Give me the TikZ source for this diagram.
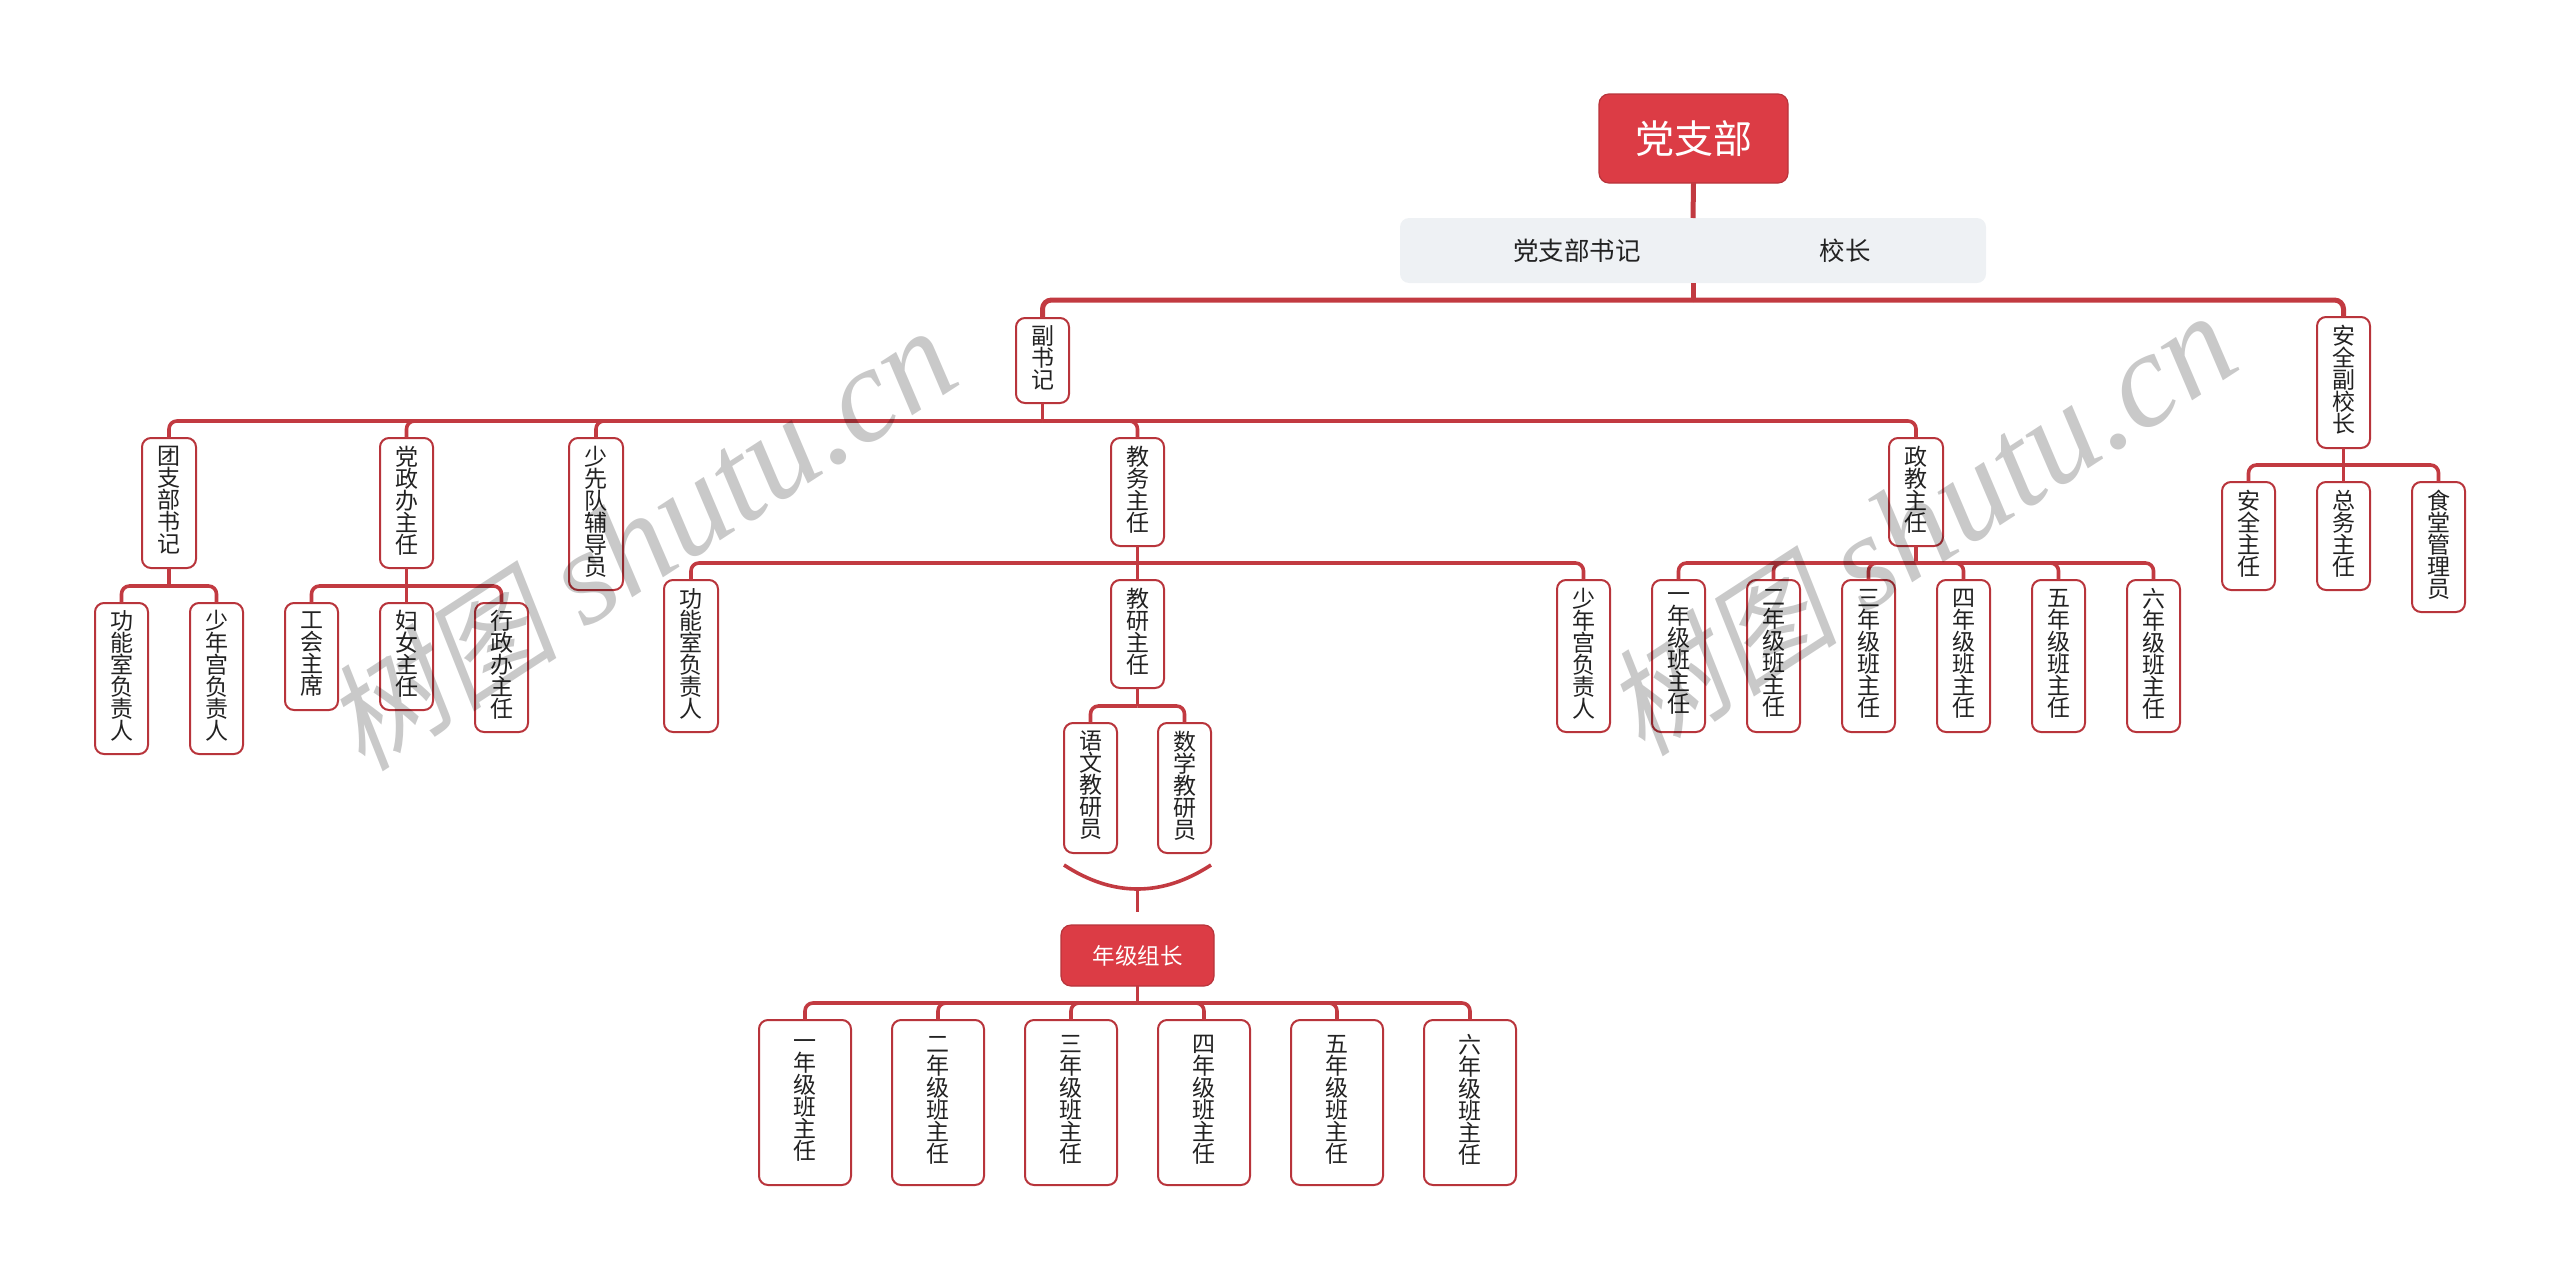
\documentclass[tikz,border=0pt]{standalone}
\usepackage{fontspec}
\setmainfont{Noto Sans CJK SC}
\newfontfamily\wmserif{Liberation Serif}
\newfontfamily\wmcjk[FakeSlant=0.2]{Noto Sans CJK SC}
\definecolor{redfill}{HTML}{DC3C45}
\definecolor{redline}{HTML}{C23A41}
\definecolor{redborder}{HTML}{B8343B}
\definecolor{stripfill}{HTML}{EEF1F4}
\definecolor{inktext}{HTML}{222222}
\tikzset{
  vbox/.style={draw=redborder,line width=2pt,fill=white,rounded corners=9pt,inner sep=0pt,outer sep=0pt},
  vlabel/.style={inner sep=0pt,outer sep=0pt,align=center,text=inktext,yshift=2.5pt,
    font=\fontsize{23}{22}\selectfont},
  redbox/.style={fill=redfill,draw=redborder,line width=1.2pt,rounded corners=10pt,inner sep=0pt,outer sep=0pt,text=white,align=center},
  wire/.style={draw=redline,line width=3.6pt},
  wirebend/.style={wire,rounded corners=8pt},
  topwire/.style={draw=redline,line width=5pt},
  topbend/.style={topwire,rounded corners=9pt},
  watermark/.style={text=black,opacity=0.21,rotate=33,inner sep=0pt}
}
\newcommand\bx[6]{\node[vbox,minimum width={(#3-#2)*1pt},minimum height={(#5-#4)*1pt}] (#1) at ({(#2+#3)/2},{(#4+#5)/2}) {};
  \node[vlabel] (#1t) at (#1.center) {#6};}
\newcommand\kids[3]{%
  \coordinate (busy) at (0,#2);
  \draw[wire] (#1.south) -- (#1.south |- busy);
  \foreach \c in {#3} { \draw[wirebend] (#1.south |- busy) -| (\c.north); }
}
\newcommand\wmtext{{\fontsize{118}{118}\selectfont\wmcjk 树图}\hspace{28pt}{\fontsize{135}{135}\selectfont\wmserif\itshape shutu.cn}}
\begin{document}
\lineskiplimit=-100pt
\begin{tikzpicture}[x=1pt,y=-1pt]
\useasboundingbox (0,0) rectangle (2560,1280);
% header
\node[redbox,minimum width=189pt,minimum height=89pt,font=\fontsize{39}{39}\selectfont] (root) at (1693.5,138.5) {党支部};
\node[fill=stripfill,rounded corners=9pt,minimum width=586pt,minimum height=65pt,inner sep=0pt,outer sep=0pt] (strip) at (1693,250.5) {};
\node[text=inktext,font=\fontsize{25.5}{26}\selectfont] (secy) at (1577,251) {党支部书记};
\node[text=inktext,font=\fontsize{25.5}{26}\selectfont] (head) at (1845,251) {校长};
% level 1
\bx{fsj}{1016}{1069}{318}{403}{副\\书\\记}
\bx{aqfx}{2317}{2370}{317}{448}{安\\全\\副\\校\\长}
% level 2
\bx{tzb}{142}{196}{438}{568}{团\\支\\部\\书\\记}
\bx{dzb}{380}{433}{438}{568}{党\\政\\办\\主\\任}
\bx{sxd}{569}{623}{438}{590}{少\\先\\队\\辅\\导\\员}
\bx{jwzr}{1111}{1164}{438}{546}{教\\务\\主\\任}
\bx{zjzr}{1889}{1943}{438}{546}{政\\教\\主\\任}
% tzb children
\bx{gns}{95}{148}{603}{754}{功\\能\\室\\负\\责\\人}
\bx{sng}{190}{243}{603}{754}{少\\年\\宫\\负\\责\\人}
% dzb children
\bx{ghzx}{285}{338}{603}{710}{工\\会\\主\\席}
\bx{fnzr}{380}{433}{603}{710}{妇\\女\\主\\任}
\bx{xzb}{475}{528}{603}{732}{行\\政\\办\\主\\任}
% jwzr children
\bx{gnsb}{664}{718}{580}{732}{功\\能\\室\\负\\责\\人}
\bx{jyzr}{1111}{1164}{580}{688}{教\\研\\主\\任}
\bx{sngb}{1557}{1610}{580}{732}{少\\年\\宫\\负\\责\\人}
\bx{ywjy}{1064}{1117}{723}{853}{语\\文\\教\\研\\员}
\bx{sxjy}{1158}{1211}{723}{853}{数\\学\\教\\研\\员}
% zjzr children
\bx{za}{1652}{1705}{580}{732}{一\\年\\级\\班\\主\\任}
\bx{zb}{1747}{1800}{580}{732}{二\\年\\级\\班\\主\\任}
\bx{zc}{1842}{1895}{580}{732}{三\\年\\级\\班\\主\\任}
\bx{zd}{1937}{1990}{580}{732}{四\\年\\级\\班\\主\\任}
\bx{ze}{2032}{2085}{580}{732}{五\\年\\级\\班\\主\\任}
\bx{zf}{2127}{2180}{580}{732}{六\\年\\级\\班\\主\\任}
% safety children
\bx{aqzr}{2222}{2275}{482}{590}{安\\全\\主\\任}
\bx{zwzr}{2317}{2370}{482}{590}{总\\务\\主\\任}
\bx{stgl}{2412}{2465}{482}{612}{食\\堂\\管\\理\\员}
% grade leaders
\node[redbox,minimum width=153pt,minimum height=61pt,font=\fontsize{22.5}{22}\selectfont] (njzz) at (1137.5,955.5) {年级组长};
\bx{ga}{759}{851}{1020}{1185}{一\\年\\级\\班\\主\\任}
\bx{gb}{892}{984}{1020}{1185}{二\\年\\级\\班\\主\\任}
\bx{gc}{1025}{1117}{1020}{1185}{三\\年\\级\\班\\主\\任}
\bx{gd}{1158}{1250}{1020}{1185}{四\\年\\级\\班\\主\\任}
\bx{ge}{1291}{1383}{1020}{1185}{五\\年\\级\\班\\主\\任}
\bx{gf}{1424}{1516}{1020}{1185}{六\\年\\级\\班\\主\\任}
% connectors
\draw[topwire] (root.south) -- (strip.north);
\coordinate (topy) at (0,300);
\draw[topwire] (strip.south) -- (strip.south |- topy);
\draw[topbend] (strip.south |- topy) -| (fsj.north);
\draw[topbend] (strip.south |- topy) -| (aqfx.north);
\kids{fsj}{421}{tzb,dzb,sxd,jwzr,zjzr}
\kids{tzb}{586}{gns,sng}
\kids{dzb}{586}{ghzx,fnzr,xzb}
\kids{jwzr}{563}{gnsb,jyzr,sngb}
\kids{jyzr}{706}{ywjy,sxjy}
\kids{zjzr}{563}{za,zb,zc,zd,ze,zf}
\kids{aqfx}{465}{aqzr,zwzr,stgl}
\kids{njzz}{1003}{ga,gb,gc,gd,ge,gf}
% summary brace
\coordinate (arcl) at (1064,865);
\coordinate (arcr) at (1211,865);
\coordinate (arcla) at (1113,897);
\coordinate (arcra) at (1162,897);
\coordinate (arcm) at (1137.5,889);
\coordinate (arcend) at (1137.5,912);
\draw[wire] (arcl) .. controls (arcla) and (arcra) .. (arcr);
\draw[wire] (arcm) -- (arcend);
% watermarks
\node[watermark] (wma) at (640,540) {\wmtext};
\node[watermark] (wmb) at (1920,525) {\wmtext};
\end{tikzpicture}
\end{document}
